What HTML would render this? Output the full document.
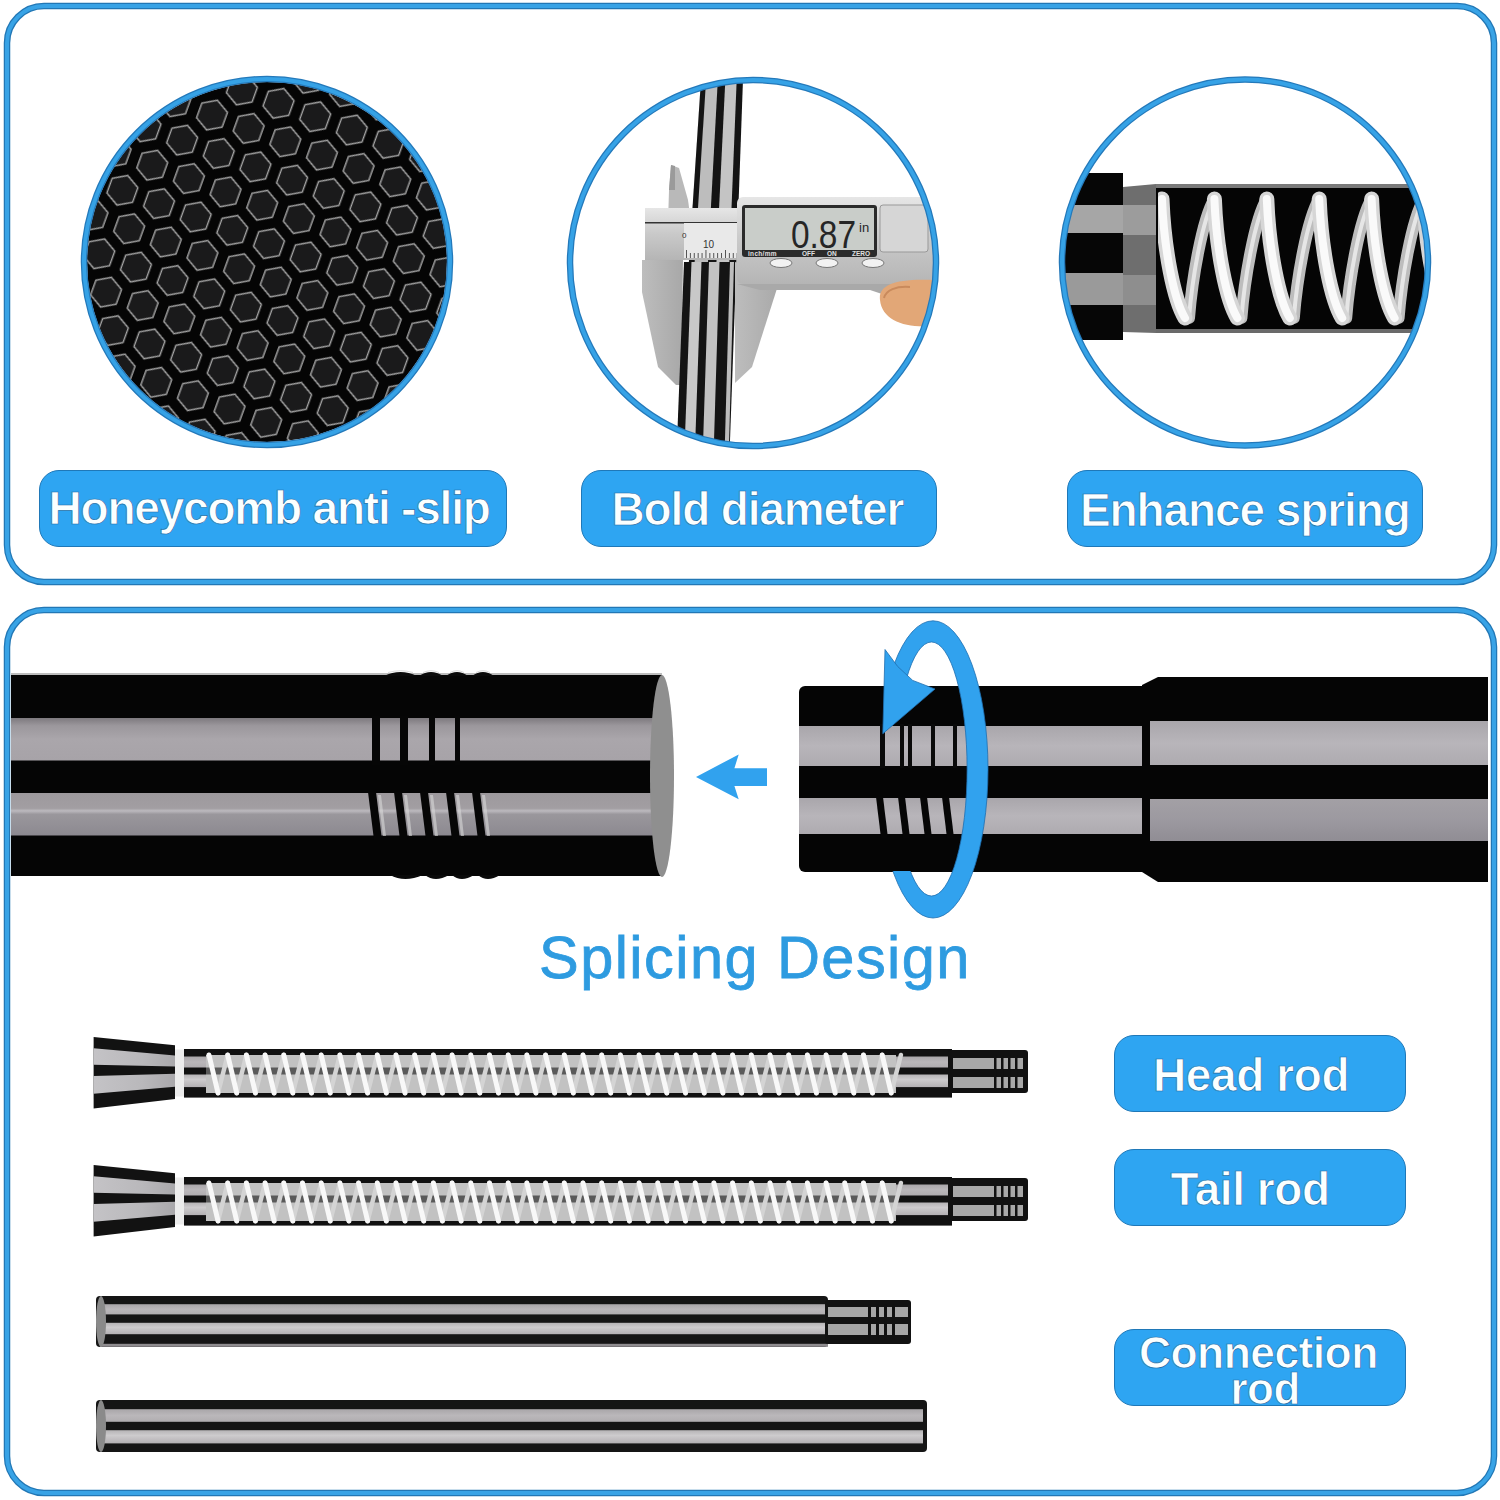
<!DOCTYPE html>
<html>
<head>
<meta charset="utf-8">
<style>
html,body{margin:0;padding:0;background:#fff;}
body{width:1500px;height:1500px;position:relative;overflow:hidden;font-family:"Liberation Sans",sans-serif;}
svg.g{position:absolute;left:0;top:0;}
.pill{position:absolute;background:#2ea5f2;border:1.5px solid #1f78b8;border-radius:20px;box-sizing:border-box;}
.lbl{position:absolute;color:#fbffff;font-weight:bold;white-space:nowrap;line-height:1;-webkit-text-stroke:0.7px #1f6fa8;}
.splice{position:absolute;color:#2e9be0;white-space:nowrap;line-height:1;-webkit-text-stroke:0.8px #2e9be0;}
</style>
</head>
<body>

<svg class="g" width="1500" height="1500" viewBox="0 0 1500 1500">
<defs>
<pattern id="hex" width="39.0" height="67.550" patternUnits="userSpaceOnUse" patternTransform="translate(22,10) rotate(20)">
<rect width="39.0" height="67.550" fill="#050505"/>
<g fill="#1a1a1b" stroke="#a8a8a8" stroke-width="1.4">
<path d="M0.00,-15.76 L13.65,-7.88 L13.65,7.88 L0.00,15.76 L-13.65,7.88 L-13.65,-7.88 Z"/>
<path d="M39.00,-15.76 L52.65,-7.88 L52.65,7.88 L39.00,15.76 L25.35,7.88 L25.35,-7.88 Z"/>
<path d="M19.50,18.01 L33.15,25.89 L33.15,41.66 L19.50,49.54 L5.85,41.66 L5.85,25.89 Z"/>
<path d="M0.00,51.79 L13.65,59.67 L13.65,75.43 L0.00,83.31 L-13.65,75.43 L-13.65,59.67 Z"/>
<path d="M39.00,51.79 L52.65,59.67 L52.65,75.43 L39.00,83.31 L25.35,75.43 L25.35,59.67 Z"/>
</g></pattern>
<clipPath id="c1"><circle cx="267" cy="262" r="181"/></clipPath>
<clipPath id="c2"><circle cx="753" cy="263" r="181"/></clipPath>
<clipPath id="c3"><circle cx="1245" cy="262.5" r="181"/></clipPath>
<linearGradient id="silver" x1="0" y1="0" x2="0" y2="1"><stop offset="0" stop-color="#e6e6e6"/><stop offset="0.5" stop-color="#c9c9c9"/><stop offset="1" stop-color="#b5b5b5"/></linearGradient>
<linearGradient id="jaw" x1="0" y1="0" x2="1" y2="0"><stop offset="0" stop-color="#bdbdbd"/><stop offset="1" stop-color="#a8a8a8"/></linearGradient>
<clipPath id="ringclip"><path d="M850,600 H1000 V950 H850 Z M850,686 V871 H933 V686 Z" clip-rule="evenodd"/></clipPath>
<clipPath id="tubeclip"><rect x="1158" y="189" width="290" height="138"/></clipPath>
<linearGradient id="bandU" x1="0" y1="0" x2="0" y2="1"><stop offset="0" stop-color="#7d797e"/><stop offset="0.18" stop-color="#9b979c"/><stop offset="0.5" stop-color="#aaa6ab"/><stop offset="1" stop-color="#a7a3a8"/></linearGradient>
<linearGradient id="bandL" x1="0" y1="0" x2="0" y2="1"><stop offset="0" stop-color="#9d999d"/><stop offset="0.36" stop-color="#a29ea2"/><stop offset="0.42" stop-color="#bcb9be"/><stop offset="0.5" stop-color="#9a979c"/><stop offset="1" stop-color="#8c8990"/></linearGradient>
<linearGradient id="bandR" x1="0" y1="0" x2="0" y2="1"><stop offset="0" stop-color="#a9a6ab"/><stop offset="0.5" stop-color="#b8b5ba"/><stop offset="1" stop-color="#aeabb0"/></linearGradient>
<linearGradient id="bandR2" x1="0" y1="0" x2="0" y2="1"><stop offset="0" stop-color="#a3a0a5"/><stop offset="0.5" stop-color="#9c99a0"/><stop offset="1" stop-color="#908d94"/></linearGradient>
<linearGradient id="sm1" x1="0" y1="0" x2="0" y2="1"><stop offset="0" stop-color="#a9a6a9"/><stop offset="0.5" stop-color="#bab7ba"/><stop offset="1" stop-color="#b0adb0"/></linearGradient>
<linearGradient id="sm2" x1="0" y1="0" x2="0" y2="1"><stop offset="0" stop-color="#b5b3b5"/><stop offset="0.4" stop-color="#cdcbcd"/><stop offset="1" stop-color="#b3b0b3"/></linearGradient>
<linearGradient id="capband" x1="0" y1="0" x2="1" y2="0"><stop offset="0" stop-color="#c4c3c6"/><stop offset="0.6" stop-color="#b9b8bb"/><stop offset="1" stop-color="#a9a8ab"/></linearGradient>
</defs>
<rect x="7" y="6" width="1487" height="576" rx="37" ry="37" fill="none" stroke="#2277b5" stroke-width="6.5"/>
<rect x="7" y="6" width="1487" height="576" rx="37" ry="37" fill="none" stroke="#38a3e6" stroke-width="4"/>
<rect x="7" y="610" width="1487" height="883" rx="37" ry="37" fill="none" stroke="#2277b5" stroke-width="6.5"/>
<rect x="7" y="610" width="1487" height="883" rx="37" ry="37" fill="none" stroke="#38a3e6" stroke-width="4"/>
<g clip-path="url(#c1)"><rect x="80" y="75" width="380" height="380" fill="#fff"/><circle cx="267" cy="262" r="180" fill="url(#hex)"/></g>
<circle cx="267" cy="262" r="183" fill="none" stroke="#2479ba" stroke-width="6.5"/>
<circle cx="267" cy="262" r="183" fill="none" stroke="#36a2e6" stroke-width="4"/>
<g clip-path="url(#c2)">
<polygon points="702.3,60 743.7,60 729.3,460 675.7,460" fill="#141414"/>
<polygon points="707.3,60 718.9,60 697.2,460 682.2,460" fill="#bdbdbd"/>
<polygon points="726.3,60 737.5,60 721.3,460 706.8,460" fill="#c4c4c4"/>
<polygon points="671,165 679,168 688,200 691,222 668,222 669,190" fill="#b9b9b9"/>
<polygon points="671,165 675,166 675,190 669,190" fill="#9a9a9a"/>
<rect x="645" y="208" width="300" height="52" fill="url(#silver)"/>
<rect x="645" y="222" width="95" height="1.5" fill="#333"/>
<rect x="684" y="223" width="55" height="35" fill="#e9e9e9"/>
<rect x="686.0" y="250" width="0.9" height="8" fill="#444"/>
<rect x="689.9" y="253" width="0.9" height="5" fill="#444"/>
<rect x="693.8" y="253" width="0.9" height="5" fill="#444"/>
<rect x="697.7" y="253" width="0.9" height="5" fill="#444"/>
<rect x="701.6" y="253" width="0.9" height="5" fill="#444"/>
<rect x="705.5" y="250" width="0.9" height="8" fill="#444"/>
<rect x="709.4" y="253" width="0.9" height="5" fill="#444"/>
<rect x="713.3" y="253" width="0.9" height="5" fill="#444"/>
<rect x="717.2" y="253" width="0.9" height="5" fill="#444"/>
<rect x="721.1" y="253" width="0.9" height="5" fill="#444"/>
<rect x="725.0" y="250" width="0.9" height="8" fill="#444"/>
<rect x="728.9" y="253" width="0.9" height="5" fill="#444"/>
<rect x="732.8" y="253" width="0.9" height="5" fill="#444"/>
<rect x="736.7" y="253" width="0.9" height="5" fill="#444"/>
<text x="703" y="248" font-family="Liberation Sans" font-size="10" fill="#333">10</text>
<text x="682" y="238" font-family="Liberation Sans" font-size="8" fill="#333">0</text>
<polygon points="642,260 683,260 681,385 676,385 658,367 642,292" fill="url(#jaw)"/>
<polygon points="735,262 781,276 752,367 735,383" fill="url(#jaw)"/>
<polygon points="684.0,262 734.0,262 728.6,460 676.3,460" fill="#141414"/>
<polygon points="691.5,262 701.5,262 694.6,460 684.1,460" fill="#c8c8c8"/>
<polygon points="709.0,262 719.5,262 713.4,460 702.5,460" fill="#c2c2c2"/>
<polygon points="730.0,262 734.0,262 728.6,460 724.4,460" fill="#bdbdbd"/>
<rect x="737" y="197" width="210" height="87" rx="6" fill="url(#silver)"/>
<rect x="742" y="205" width="135" height="52" rx="3" fill="#2b2b2b"/>
<rect x="745" y="208" width="129" height="42" fill="#c9cdc9"/>
<text x="748" y="256" font-family="Liberation Sans" font-size="6.5" font-weight="bold" fill="#e0e0e0" letter-spacing="0.3">inch/mm</text>
<text x="802" y="256" font-family="Liberation Sans" font-size="6.5" font-weight="bold" fill="#e0e0e0">OFF</text>
<text x="827" y="256" font-family="Liberation Sans" font-size="6.5" font-weight="bold" fill="#e0e0e0">ON</text>
<text x="852" y="256" font-family="Liberation Sans" font-size="6.5" font-weight="bold" fill="#e0e0e0">ZERO</text>
<text x="856" y="248" text-anchor="end" font-family="Liberation Sans" font-size="38" fill="#262626" transform="translate(856,248) scale(0.88,1) translate(-856,-248)">0.87</text>
<text x="859" y="232" font-family="Liberation Sans" font-size="13" fill="#262626">in</text>
<rect x="880" y="205" width="48" height="47" rx="3" fill="#d6d6d6" stroke="#999" stroke-width="1"/>
<ellipse cx="781" cy="263" rx="11" ry="4.5" fill="#f2f2f2" stroke="#777" stroke-width="1"/>
<ellipse cx="827" cy="263" rx="11" ry="4.5" fill="#f2f2f2" stroke="#777" stroke-width="1"/>
<ellipse cx="873" cy="263" rx="11" ry="4.5" fill="#f2f2f2" stroke="#777" stroke-width="1"/>
<polygon points="737,284 930,284 930,300 900,300 870,290 760,290" fill="#a9a9a9"/>
<path d="M880,300 C878,285 895,278 935,280 L940,325 C910,330 882,322 880,300 Z" fill="#e2a777"/>
<path d="M884,298 C886,290 896,286 910,287" stroke="#c98a5c" stroke-width="2" fill="none"/>
</g>
<circle cx="753" cy="263" r="183" fill="none" stroke="#2479ba" stroke-width="6.5"/>
<circle cx="753" cy="263" r="183" fill="none" stroke="#36a2e6" stroke-width="4"/>
<g clip-path="url(#c3)">
<rect x="1050" y="173" width="73" height="167" fill="#060606"/>
<rect x="1050" y="205" width="73" height="28" fill="#a6a6a6"/>
<rect x="1050" y="273" width="73" height="32" fill="#9a9a9a"/>
<polygon points="1123,187 1156,184 1156,333 1123,332" fill="#6e6e6e"/>
<rect x="1123" y="205" width="33" height="30" fill="#9c9c9c"/>
<rect x="1123" y="275" width="33" height="30" fill="#8e8e8e"/>
<rect x="1156" y="184" width="290" height="149" fill="#050505"/>
<rect x="1156" y="184" width="290" height="4" fill="#7a7a7a"/>
<rect x="1156" y="329" width="290" height="4" fill="#6a6a6a"/>
<g clip-path="url(#tubeclip)">
<path d="M1136.6,318 C1139.6,280 1149.6,220 1162.0,199 M1189.0,318 C1192.0,280 1202.0,220 1214.4,199 M1241.4,318 C1244.4,280 1254.4,220 1266.8,199 M1293.8,318 C1296.8,280 1306.8,220 1319.2,199 M1346.2,318 C1349.2,280 1359.2,220 1371.6,199 M1398.6,318 C1401.6,280 1411.6,220 1424.0,199 M1451.0,318 C1454.0,280 1464.0,220 1476.4,199 M1503.4,318 C1506.4,280 1516.4,220 1528.8,199 " stroke="#bdbdbd" stroke-width="12" fill="none" stroke-linecap="round"/>
<path d="M1136.6,318 C1139.6,280 1149.6,220 1162.0,199 M1189.0,318 C1192.0,280 1202.0,220 1214.4,199 M1241.4,318 C1244.4,280 1254.4,220 1266.8,199 M1293.8,318 C1296.8,280 1306.8,220 1319.2,199 M1346.2,318 C1349.2,280 1359.2,220 1371.6,199 M1398.6,318 C1401.6,280 1411.6,220 1424.0,199 M1451.0,318 C1454.0,280 1464.0,220 1476.4,199 M1503.4,318 C1506.4,280 1516.4,220 1528.8,199 " stroke="#e6e6e6" stroke-width="4" fill="none" stroke-linecap="round"/>
<path d="M1109.6,199 C1111.6,250 1121.6,300 1132.6,318 M1162.0,199 C1164.0,250 1174.0,300 1185.0,318 M1214.4,199 C1216.4,250 1226.4,300 1237.4,318 M1266.8,199 C1268.8,250 1278.8,300 1289.8,318 M1319.2,199 C1321.2,250 1331.2,300 1342.2,318 M1371.6,199 C1373.6,250 1383.6,300 1394.6,318 M1424.0,199 C1426.0,250 1436.0,300 1447.0,318 M1476.4,199 C1478.4,250 1488.4,300 1499.4,318 " stroke="#d6d6d6" stroke-width="15" fill="none" stroke-linecap="round"/>
<path d="M1109.6,199 C1111.6,250 1121.6,300 1132.6,318 M1162.0,199 C1164.0,250 1174.0,300 1185.0,318 M1214.4,199 C1216.4,250 1226.4,300 1237.4,318 M1266.8,199 C1268.8,250 1278.8,300 1289.8,318 M1319.2,199 C1321.2,250 1331.2,300 1342.2,318 M1371.6,199 C1373.6,250 1383.6,300 1394.6,318 M1424.0,199 C1426.0,250 1436.0,300 1447.0,318 M1476.4,199 C1478.4,250 1488.4,300 1499.4,318 " stroke="#fafafa" stroke-width="8" fill="none" stroke-linecap="round"/>
</g>
</g>
<circle cx="1245" cy="262.5" r="183" fill="none" stroke="#2479ba" stroke-width="6.5"/>
<circle cx="1245" cy="262.5" r="183" fill="none" stroke="#36a2e6" stroke-width="4"/>
<rect x="11" y="675" width="651" height="201" fill="#050505"/>
<rect x="11" y="718" width="651" height="42.5" fill="url(#bandU)"/>
<rect x="11" y="793" width="651" height="42.5" fill="url(#bandL)"/>
<rect x="11" y="673" width="651" height="2" fill="#bdbdbd"/>
<rect x="372" y="716" width="8" height="49" fill="#060606"/>
<rect x="400" y="716" width="8" height="49" fill="#060606"/>
<rect x="429" y="716" width="6" height="49" fill="#060606"/>
<rect x="455" y="716" width="5" height="49" fill="#060606"/>
<polygon points="368,792 376,792 382,840 374,840" fill="#060606"/>
<polygon points="378,795 381,795 386,836 383,836" fill="#d8d8d8" opacity="0.6"/>
<polygon points="394,792 402,792 408,840 400,840" fill="#060606"/>
<polygon points="404,795 407,795 412,836 409,836" fill="#d8d8d8" opacity="0.6"/>
<polygon points="420,792 428,792 434,840 426,840" fill="#060606"/>
<polygon points="430,795 433,795 438,836 435,836" fill="#d8d8d8" opacity="0.6"/>
<polygon points="446,792 454,792 460,840 452,840" fill="#060606"/>
<polygon points="456,795 459,795 464,836 461,836" fill="#d8d8d8" opacity="0.6"/>
<polygon points="472,792 480,792 486,840 478,840" fill="#060606"/>
<polygon points="482,795 485,795 490,836 487,836" fill="#d8d8d8" opacity="0.6"/>
<path d="M384,676 Q400.5,668 417,676 Z" fill="#0a0a0a"/>
<path d="M388,672.5 Q400.5,669 413,672.5" stroke="#cfcfcf" stroke-width="1" fill="none" opacity="0.8"/>
<path d="M390,875 Q404.5,883 423,875 Z" fill="#0a0a0a"/>
<path d="M419,676 Q431.0,668 443,676 Z" fill="#0a0a0a"/>
<path d="M423,672.5 Q431.0,669 439,672.5" stroke="#cfcfcf" stroke-width="1" fill="none" opacity="0.8"/>
<path d="M425,875 Q435.0,883 449,875 Z" fill="#0a0a0a"/>
<path d="M446,676 Q457.0,668 468,676 Z" fill="#0a0a0a"/>
<path d="M450,672.5 Q457.0,669 464,672.5" stroke="#cfcfcf" stroke-width="1" fill="none" opacity="0.8"/>
<path d="M452,875 Q461.0,883 474,875 Z" fill="#0a0a0a"/>
<path d="M472,676 Q483.0,668 494,676 Z" fill="#0a0a0a"/>
<path d="M476,672.5 Q483.0,669 490,672.5" stroke="#cfcfcf" stroke-width="1" fill="none" opacity="0.8"/>
<path d="M478,875 Q487.0,883 500,875 Z" fill="#0a0a0a"/>
<ellipse cx="662" cy="776" rx="12" ry="101" fill="#8f8f8f"/>
<polygon points="696,777 738.7,754.4 734.4,768.3 767,768.3 767,786 734.4,786 738.7,799.2" fill="#31a2ee"/>
<rect x="799" y="686" width="350" height="186" rx="6" fill="#050505"/>
<rect x="799" y="726" width="351" height="40" fill="url(#bandR)"/>
<rect x="799" y="798" width="351" height="36" fill="url(#bandR)"/>
<polygon points="1142,685 1158,677 1488,677 1488,882 1158,882 1142,872" fill="#050505"/>
<rect x="1150" y="721" width="338" height="44" fill="url(#bandR)"/>
<rect x="1150" y="799" width="338" height="42" fill="url(#bandR2)"/>
<rect x="880" y="724" width="5" height="44" fill="#0a0a0a"/>
<rect x="900" y="724" width="4" height="44" fill="#0a0a0a"/>
<rect x="908" y="724" width="4" height="44" fill="#0a0a0a"/>
<rect x="931" y="724" width="4" height="44" fill="#0a0a0a"/>
<rect x="953" y="724" width="4" height="44" fill="#0a0a0a"/>
<polygon points="876,797 883,797 888,838 881,838" fill="#060606"/>
<polygon points="898,797 905,797 910,838 903,838" fill="#060606"/>
<polygon points="920,797 927,797 932,838 925,838" fill="#060606"/>
<polygon points="942,797 949,797 954,838 947,838" fill="#060606"/>
<g clip-path="url(#ringclip)"><path d="M878,769.4 a55,148.6 0 1,0 110,0 a55,148.6 0 1,0 -110,0 Z M895.9,769 a35.6,127 0 1,0 71.2,0 a35.6,127 0 1,0 -71.2,0 Z" fill="#31a2ee" fill-rule="evenodd" stroke="#1f6fb0" stroke-width="0.8"/></g>
<polygon points="885,649.5 897.7,666.5 912.7,680.4 935,689 882.8,733.7" fill="#31a2ee" stroke="#1f6fb0" stroke-width="0.8"/>
<polygon points="93.6,1037 175,1045.2 175,1099 93.6,1108.5" fill="#121212"/>
<polygon points="93.6,1048.2 175,1055.6 175,1066.4 93.6,1064.7" fill="url(#capband)"/>
<polygon points="93.6,1076 175,1073.8 175,1086.8 93.6,1093.7" fill="url(#capband)"/>
<rect x="175" y="1049.5" width="9" height="47" fill="#ececec"/>
<rect x="184" y="1049" width="768" height="48.6" fill="#111"/>
<rect x="184" y="1056.5" width="768" height="11" fill="url(#sm1)"/>
<rect x="184" y="1074.5" width="768" height="12.6" fill="url(#sm2)"/>
<rect x="948" y="1050" width="80" height="43" rx="3" fill="#111"/>
<rect x="953" y="1058" width="70" height="11" fill="#a8a8a8"/>
<rect x="953" y="1077" width="70" height="11" fill="#a8a8a8"/>
<rect x="994" y="1055" width="2.5" height="36" fill="#111"/>
<rect x="1001" y="1055" width="2.5" height="36" fill="#111"/>
<rect x="1008" y="1055" width="2.5" height="36" fill="#111"/>
<rect x="1015" y="1055" width="2.5" height="36" fill="#111"/>
<rect x="206" y="1055" width="690" height="38" fill="#c2c2c2"/>
<rect x="206" y="1067.5" width="690" height="7" fill="#5a5a5a"/>
<path d="M218.0,1093 L227.7,1055 M236.7,1093 L246.4,1055 M255.4,1093 L265.1,1055 M274.1,1093 L283.8,1055 M292.8,1093 L302.5,1055 M311.5,1093 L321.2,1055 M330.2,1093 L339.9,1055 M348.9,1093 L358.6,1055 M367.6,1093 L377.3,1055 M386.3,1093 L396.0,1055 M405.0,1093 L414.7,1055 M423.7,1093 L433.4,1055 M442.4,1093 L452.1,1055 M461.1,1093 L470.8,1055 M479.8,1093 L489.5,1055 M498.5,1093 L508.2,1055 M517.2,1093 L526.9,1055 M535.9,1093 L545.6,1055 M554.6,1093 L564.3,1055 M573.3,1093 L583.0,1055 M592.0,1093 L601.7,1055 M610.7,1093 L620.4,1055 M629.4,1093 L639.1,1055 M648.1,1093 L657.8,1055 M666.8,1093 L676.5,1055 M685.5,1093 L695.2,1055 M704.2,1093 L713.9,1055 M722.9,1093 L732.6,1055 M741.6,1093 L751.3,1055 M760.3,1093 L770.0,1055 M779.0,1093 L788.7,1055 M797.7,1093 L807.4,1055 M816.4,1093 L826.1,1055 M835.1,1093 L844.8,1055 M853.8,1093 L863.5,1055 M872.5,1093 L882.2,1055 M891.2,1093 L900.9,1055 " stroke="#d4d4d4" stroke-width="4.5" fill="none" stroke-linecap="round"/>
<path d="M209.0,1055 L218.0,1093 M227.7,1055 L236.7,1093 M246.4,1055 L255.4,1093 M265.1,1055 L274.1,1093 M283.8,1055 L292.8,1093 M302.5,1055 L311.5,1093 M321.2,1055 L330.2,1093 M339.9,1055 L348.9,1093 M358.6,1055 L367.6,1093 M377.3,1055 L386.3,1093 M396.0,1055 L405.0,1093 M414.7,1055 L423.7,1093 M433.4,1055 L442.4,1093 M452.1,1055 L461.1,1093 M470.8,1055 L479.8,1093 M489.5,1055 L498.5,1093 M508.2,1055 L517.2,1093 M526.9,1055 L535.9,1093 M545.6,1055 L554.6,1093 M564.3,1055 L573.3,1093 M583.0,1055 L592.0,1093 M601.7,1055 L610.7,1093 M620.4,1055 L629.4,1093 M639.1,1055 L648.1,1093 M657.8,1055 L666.8,1093 M676.5,1055 L685.5,1093 M695.2,1055 L704.2,1093 M713.9,1055 L722.9,1093 M732.6,1055 L741.6,1093 M751.3,1055 L760.3,1093 M770.0,1055 L779.0,1093 M788.7,1055 L797.7,1093 M807.4,1055 L816.4,1093 M826.1,1055 L835.1,1093 M844.8,1055 L853.8,1093 M863.5,1055 L872.5,1093 M882.2,1055 L891.2,1093 " stroke="#f8f8f8" stroke-width="5" fill="none" stroke-linecap="round"/>
<polygon points="93.6,1165 175,1173.2 175,1227 93.6,1236.5" fill="#121212"/>
<polygon points="93.6,1176.2 175,1183.6 175,1194.4 93.6,1192.7" fill="url(#capband)"/>
<polygon points="93.6,1204 175,1201.8 175,1214.8 93.6,1221.7" fill="url(#capband)"/>
<rect x="175" y="1177.5" width="9" height="47" fill="#ececec"/>
<rect x="184" y="1177" width="768" height="48.6" fill="#111"/>
<rect x="184" y="1184.5" width="768" height="11" fill="url(#sm1)"/>
<rect x="184" y="1202.5" width="768" height="12.6" fill="url(#sm2)"/>
<rect x="948" y="1178" width="80" height="43" rx="3" fill="#111"/>
<rect x="953" y="1186" width="70" height="11" fill="#a8a8a8"/>
<rect x="953" y="1205" width="70" height="11" fill="#a8a8a8"/>
<rect x="994" y="1183" width="2.5" height="36" fill="#111"/>
<rect x="1001" y="1183" width="2.5" height="36" fill="#111"/>
<rect x="1008" y="1183" width="2.5" height="36" fill="#111"/>
<rect x="1015" y="1183" width="2.5" height="36" fill="#111"/>
<rect x="206" y="1183" width="690" height="38" fill="#c2c2c2"/>
<rect x="206" y="1195.5" width="690" height="7" fill="#5a5a5a"/>
<path d="M218.0,1221 L227.7,1183 M236.7,1221 L246.4,1183 M255.4,1221 L265.1,1183 M274.1,1221 L283.8,1183 M292.8,1221 L302.5,1183 M311.5,1221 L321.2,1183 M330.2,1221 L339.9,1183 M348.9,1221 L358.6,1183 M367.6,1221 L377.3,1183 M386.3,1221 L396.0,1183 M405.0,1221 L414.7,1183 M423.7,1221 L433.4,1183 M442.4,1221 L452.1,1183 M461.1,1221 L470.8,1183 M479.8,1221 L489.5,1183 M498.5,1221 L508.2,1183 M517.2,1221 L526.9,1183 M535.9,1221 L545.6,1183 M554.6,1221 L564.3,1183 M573.3,1221 L583.0,1183 M592.0,1221 L601.7,1183 M610.7,1221 L620.4,1183 M629.4,1221 L639.1,1183 M648.1,1221 L657.8,1183 M666.8,1221 L676.5,1183 M685.5,1221 L695.2,1183 M704.2,1221 L713.9,1183 M722.9,1221 L732.6,1183 M741.6,1221 L751.3,1183 M760.3,1221 L770.0,1183 M779.0,1221 L788.7,1183 M797.7,1221 L807.4,1183 M816.4,1221 L826.1,1183 M835.1,1221 L844.8,1183 M853.8,1221 L863.5,1183 M872.5,1221 L882.2,1183 M891.2,1221 L900.9,1183 " stroke="#d4d4d4" stroke-width="4.5" fill="none" stroke-linecap="round"/>
<path d="M209.0,1183 L218.0,1221 M227.7,1183 L236.7,1221 M246.4,1183 L255.4,1221 M265.1,1183 L274.1,1221 M283.8,1183 L292.8,1221 M302.5,1183 L311.5,1221 M321.2,1183 L330.2,1221 M339.9,1183 L348.9,1221 M358.6,1183 L367.6,1221 M377.3,1183 L386.3,1221 M396.0,1183 L405.0,1221 M414.7,1183 L423.7,1221 M433.4,1183 L442.4,1221 M452.1,1183 L461.1,1221 M470.8,1183 L479.8,1221 M489.5,1183 L498.5,1221 M508.2,1183 L517.2,1221 M526.9,1183 L535.9,1221 M545.6,1183 L554.6,1221 M564.3,1183 L573.3,1221 M583.0,1183 L592.0,1221 M601.7,1183 L610.7,1221 M620.4,1183 L629.4,1221 M639.1,1183 L648.1,1221 M657.8,1183 L666.8,1221 M676.5,1183 L685.5,1221 M695.2,1183 L704.2,1221 M713.9,1183 L722.9,1221 M732.6,1183 L741.6,1221 M751.3,1183 L760.3,1221 M770.0,1183 L779.0,1221 M788.7,1183 L797.7,1221 M807.4,1183 L816.4,1221 M826.1,1183 L835.1,1221 M844.8,1183 L853.8,1221 M863.5,1183 L872.5,1221 M882.2,1183 L891.2,1221 " stroke="#f8f8f8" stroke-width="5" fill="none" stroke-linecap="round"/>
<rect x="96" y="1296" width="732" height="51" rx="4" fill="#151515"/>
<rect x="100" y="1304.2" width="728" height="10.2" fill="url(#sm1)"/>
<rect x="100" y="1322.8" width="728" height="11.4" fill="url(#sm2)"/>
<rect x="100" y="1343.8" width="728" height="3" fill="#8f8c8f"/>
<rect x="825" y="1300" width="86" height="44" rx="3" fill="#121212"/>
<rect x="828" y="1307" width="80" height="10" fill="#a6a6a6"/>
<rect x="828" y="1324" width="80" height="11" fill="#a6a6a6"/>
<rect x="868" y="1304" width="3" height="36" fill="#111"/>
<rect x="876" y="1304" width="3" height="36" fill="#111"/>
<rect x="884" y="1304" width="3" height="36" fill="#111"/>
<rect x="892" y="1304" width="3" height="36" fill="#111"/>
<ellipse cx="101" cy="1321.5" rx="5" ry="25.5" fill="#8a8a8a"/>
<rect x="96" y="1400" width="831" height="52" rx="4" fill="#151515"/>
<rect x="100" y="1409.2" width="823" height="12.6" fill="url(#sm1)"/>
<rect x="100" y="1430.2" width="823" height="13.2" fill="url(#sm2)"/>
<ellipse cx="101" cy="1426" rx="5" ry="26" fill="#8a8a8a"/>
</svg>
<div class="pill" style="left:39px;top:470px;width:468px;height:77px;"></div>
<div class="pill" style="left:581px;top:470px;width:356px;height:77px;"></div>
<div class="pill" style="left:1067px;top:470px;width:356px;height:77px;"></div>
<div class="pill" style="left:1114px;top:1035px;width:292px;height:77px;"></div>
<div class="pill" style="left:1114px;top:1149px;width:292px;height:77px;"></div>
<div class="pill" style="left:1114px;top:1329px;width:292px;height:77px;"></div>
<div class="lbl" style="left:48.5px;top:484.5px;font-size:46px;letter-spacing:-1.2px;">Honeycomb anti -slip</div>
<div class="lbl" style="left:611.5px;top:485.5px;font-size:46px;letter-spacing:-1.15px;">Bold diameter</div>
<div class="lbl" style="left:1080px;top:486.5px;font-size:46px;letter-spacing:-1.1px;">Enhance spring</div>
<div class="lbl" style="left:1153px;top:1052.4px;font-size:46px;letter-spacing:-0.4px;">Head rod</div>
<div class="lbl" style="left:1170.5px;top:1166px;font-size:46px;letter-spacing:-0.45px;">Tail rod</div>
<div class="lbl" style="left:1139px;top:1331px;font-size:44.5px;letter-spacing:-0.6px;">Connection</div>
<div class="lbl" style="left:1230.5px;top:1366.8px;font-size:44px;letter-spacing:-0.5px;">rod</div>
<div class="splice" style="left:539px;top:928.4px;font-size:59.5px;letter-spacing:1.45px;">Splicing Design</div>
</body>
</html>
